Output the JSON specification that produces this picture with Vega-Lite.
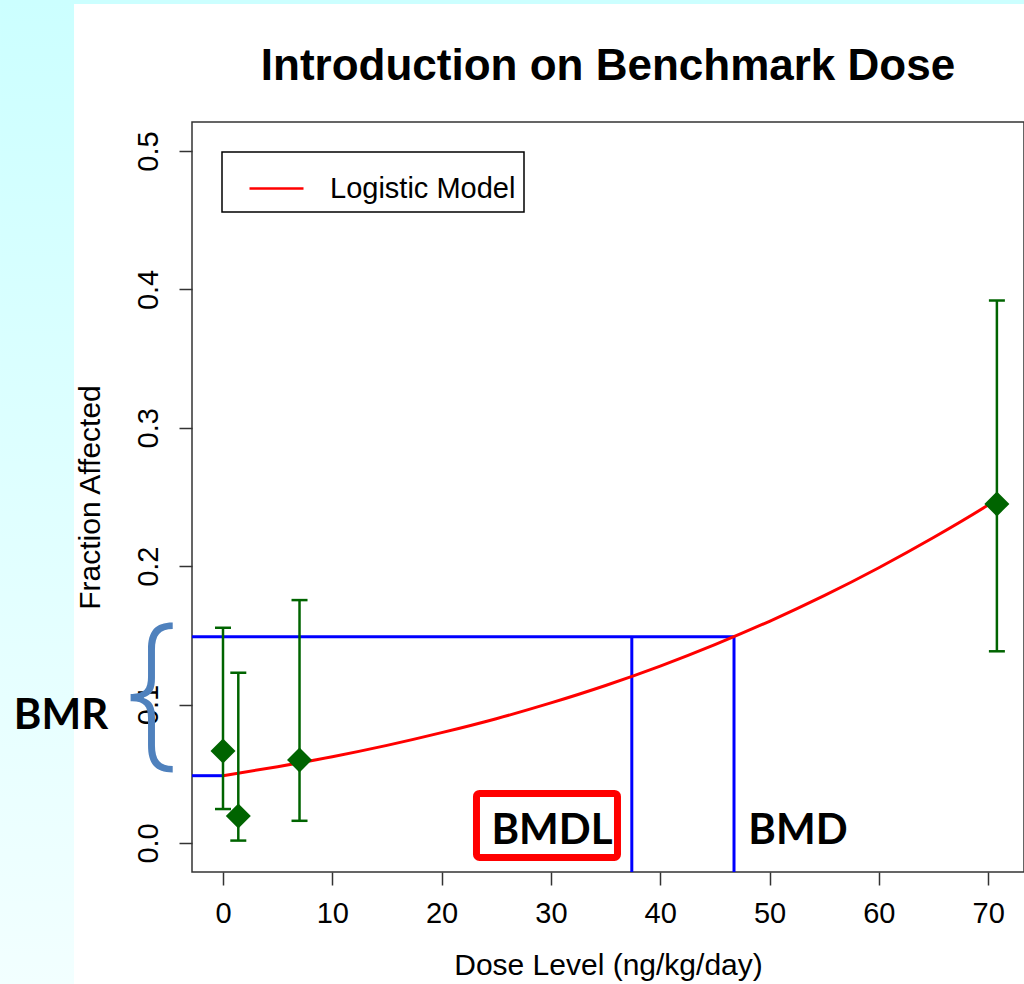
{
  "$schema": "https://vega.github.io/schema/vega-lite/v6.json",
  "autosize": {"type": "none"},
  "width": 832,
  "height": 750,
  "padding": {"left": 192, "top": 122, "right": 0, "bottom": 112},
  "background": "white",
  "title": {"text": "Introduction on Benchmark Dose", "font": "Liberation Sans", "fontSize": 44, "fontWeight": "bold", "color": "#000", "anchor": "middle", "baseline": "alphabetic", "offset": -124, "frame": "group"},
  "config": {
    "view": {"stroke": "#333", "strokeWidth": 1.5},
    "axis": {"domain": false, "grid": false, "tickColor": "#333", "tickWidth": 1.5, "tickSize": 13, "labelFont": "Liberation Sans", "labelFontSize": 29, "labelColor": "#000", "titleFont": "Liberation Sans", "titleFontSize": 30, "titleFontWeight": "normal", "titleColor": "#000"},
    "axisX": {"labelPadding": 14, "titlePadding": 22},
    "axisY": {"labelAngle": 270, "labelAlign": "center", "labelBaseline": "alphabetic", "labelPadding": 22, "titlePadding": 29},
    "legend": {"orient": "top-left", "offset": 30, "padding": 8, "symbolOffset": 18, "strokeColor": "#000", "strokeWidth": 1.5, "fillColor": "white", "cornerRadius": 0, "symbolType": "stroke", "symbolSize": 2916, "symbolStrokeWidth": 2.5, "labelFont": "Liberation Sans", "labelFontSize": 29, "labelColor": "#000", "labelOffset": 25, "labelLimit": 400}
  },
  "datasets": {
    "points": [
      {"dose": 0, "frac": 0.0665, "lo": 0.0245, "hi": 0.1555},
      {"dose": 1.4, "frac": 0.0195, "lo": 0.0017, "hi": 0.123},
      {"dose": 7.0, "frac": 0.060, "lo": 0.016, "hi": 0.1755},
      {"dose": 70.8, "frac": 0.245, "lo": 0.1385, "hi": 0.392}
    ],
    "curve": [
      {"dose": 0, "frac": 0.0486, "series": "Logistic Model"},
      {"dose": 5, "frac": 0.0551, "series": "Logistic Model"},
      {"dose": 10, "frac": 0.0623, "series": "Logistic Model"},
      {"dose": 15, "frac": 0.0705, "series": "Logistic Model"},
      {"dose": 20, "frac": 0.0797, "series": "Logistic Model"},
      {"dose": 25, "frac": 0.0898, "series": "Logistic Model"},
      {"dose": 30, "frac": 0.1012, "series": "Logistic Model"},
      {"dose": 35, "frac": 0.1138, "series": "Logistic Model"},
      {"dose": 40, "frac": 0.1278, "series": "Logistic Model"},
      {"dose": 45, "frac": 0.1433, "series": "Logistic Model"},
      {"dose": 50, "frac": 0.1602, "series": "Logistic Model"},
      {"dose": 55, "frac": 0.1787, "series": "Logistic Model"},
      {"dose": 60, "frac": 0.1989, "series": "Logistic Model"},
      {"dose": 65, "frac": 0.2207, "series": "Logistic Model"},
      {"dose": 70, "frac": 0.2442, "series": "Logistic Model"},
      {"dose": 70.8, "frac": 0.2482, "series": "Logistic Model"}
    ],
    "lines": [
      {"dose": -2.836, "dose2": 46.75, "frac": 0.149, "frac2": 0.149},
      {"dose": -2.836, "dose2": 0, "frac": 0.0486, "frac2": 0.0486},
      {"dose": 37.4, "dose2": 37.4, "frac": -0.021, "frac2": 0.149},
      {"dose": 46.75, "dose2": 46.75, "frac": -0.021, "frac2": 0.149}
    ]
  },
  "layer": [
    {
      "data": {"values": [{"label": "strip"}]},
      "mark": {"type": "rect", "clip": false, "fill": {"gradient": "linear", "x1": 0, "y1": 0, "x2": 0, "y2": 1, "stops": [{"offset": 0, "color": "#ccffff"}, {"offset": 1, "color": "#f2ffff"}]}},
      "encoding": {"x": {"datum": -20.4, "type": "quantitative"}, "x2": {"datum": -13.63}, "y": {"datum": 0.6091, "type": "quantitative"}, "y2": {"datum": -0.1019}}
    },
    {
      "data": {"values": [{"label": "top"}]},
      "mark": {"type": "rect", "clip": false, "fill": "#ccffff"},
      "encoding": {"x": {"datum": -13.63, "type": "quantitative"}, "x2": {"datum": 73.3}, "y": {"datum": 0.6091, "type": "quantitative"}, "y2": {"datum": 0.6062}}
    },
    {
      "data": {"name": "lines"},
      "mark": {"type": "rule", "color": "#0000ff", "strokeWidth": 3},
      "encoding": {
        "x": {"field": "dose", "type": "quantitative", "title": "Dose Level (ng/kg/day)", "scale": {"domain": [-2.836, 73.28], "nice": false, "zero": false}, "axis": {"values": [0, 10, 20, 30, 40, 50, 60, 70]}},
        "x2": {"field": "dose2"},
        "y": {"field": "frac", "type": "quantitative", "title": "Fraction Affected", "scale": {"domain": [-0.021, 0.521], "nice": false, "zero": false}, "axis": {"values": [0, 0.1, 0.2, 0.3, 0.4, 0.5], "format": ".1f"}},
        "y2": {"field": "frac2"}
      }
    },
    {
      "data": {"name": "curve"},
      "mark": {"type": "line", "strokeWidth": 3, "interpolate": "monotone"},
      "encoding": {
        "x": {"field": "dose", "type": "quantitative", "title": "Dose Level (ng/kg/day)"},
        "y": {"field": "frac", "type": "quantitative", "title": "Fraction Affected"},
        "color": {"field": "series", "type": "nominal", "scale": {"domain": ["Logistic Model"], "range": ["#ff0000"]}, "legend": {"title": null}}
      }
    },
    {
      "data": {"name": "points"},
      "mark": {"type": "rule", "color": "#006400", "strokeWidth": 2.5},
      "encoding": {
        "x": {"field": "dose", "type": "quantitative", "title": "Dose Level (ng/kg/day)"},
        "y": {"field": "lo", "type": "quantitative", "title": "Fraction Affected"},
        "y2": {"field": "hi"}
      }
    },
    {
      "data": {"name": "points"},
      "mark": {"type": "tick", "orient": "horizontal", "color": "#006400", "size": 16, "thickness": 2.5, "opacity": 1},
      "encoding": {
        "x": {"field": "dose", "type": "quantitative", "title": "Dose Level (ng/kg/day)"},
        "y": {"field": "lo", "type": "quantitative", "title": "Fraction Affected"}
      }
    },
    {
      "data": {"name": "points"},
      "mark": {"type": "tick", "orient": "horizontal", "color": "#006400", "size": 16, "thickness": 2.5, "opacity": 1},
      "encoding": {
        "x": {"field": "dose", "type": "quantitative", "title": "Dose Level (ng/kg/day)"},
        "y": {"field": "hi", "type": "quantitative", "title": "Fraction Affected"}
      }
    },
    {
      "data": {"name": "points"},
      "mark": {"type": "point", "shape": "diamond", "filled": true, "size": 625, "color": "#006400", "opacity": 1},
      "encoding": {
        "x": {"field": "dose", "type": "quantitative", "title": "Dose Level (ng/kg/day)"},
        "y": {"field": "frac", "type": "quantitative", "title": "Fraction Affected"}
      }
    },
    {
      "data": {"values": [{"label": "box"}]},
      "mark": {"type": "rect", "clip": false, "fill": "white", "stroke": "#ff0000", "strokeWidth": 7, "cornerRadius": 3},
      "encoding": {"x": {"datum": 23.19, "type": "quantitative"}, "x2": {"datum": 36.09}, "y": {"datum": 0.0358, "type": "quantitative"}, "y2": {"datum": -0.0105}}
    },
    {
      "data": {"values": [{"label": "BMDL"}]},
      "mark": {"type": "text", "font": "Lato", "fontWeight": "bold", "fontSize": 42, "color": "#000", "align": "center", "baseline": "middle"},
      "encoding": {"text": {"field": "label"}, "x": {"datum": 30.1, "type": "quantitative"}, "y": {"datum": 0.0087, "type": "quantitative"}}
    },
    {
      "data": {"values": [{"label": "BMD"}]},
      "mark": {"type": "text", "font": "Lato", "fontWeight": "bold", "fontSize": 42, "color": "#000", "align": "center", "baseline": "middle"},
      "encoding": {"text": {"field": "label"}, "x": {"datum": 52.6, "type": "quantitative"}, "y": {"datum": 0.0087, "type": "quantitative"}}
    },
    {
      "data": {"values": [{"label": "{"}]},
      "mark": {"type": "text", "font": "Inter", "fontWeight": 200, "fontSize": 165, "color": "#4f81bd", "align": "center", "baseline": "middle", "clip": false},
      "encoding": {"text": {"field": "label"}, "x": {"datum": -6.6, "type": "quantitative"}, "y": {"datum": 0.1033, "type": "quantitative"}}
    },
    {
      "data": {"values": [{"label": "BMR"}]},
      "mark": {"type": "text", "font": "Lato", "fontWeight": "bold", "fontSize": 42, "color": "#000", "align": "center", "baseline": "middle", "clip": false},
      "encoding": {"text": {"field": "label"}, "x": {"datum": -14.82, "type": "quantitative"}, "y": {"datum": 0.0918, "type": "quantitative"}}
    }
  ]
}
